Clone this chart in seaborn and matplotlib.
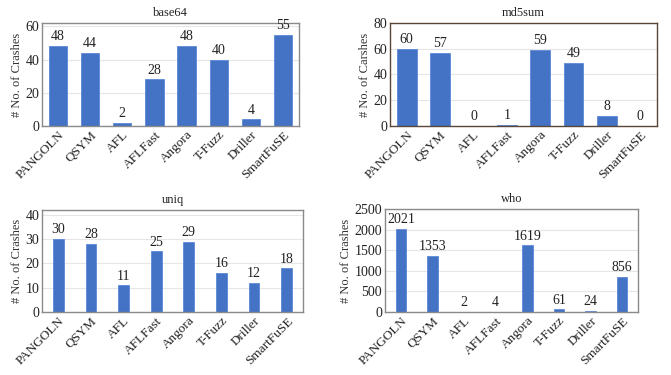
import matplotlib
matplotlib.use("Agg")
import matplotlib.pyplot as plt
import seaborn as sns
import pandas as pd

tools = ["PANGOLN", "QSYM", "AFL", "AFLFast", "Angora", "T-Fuzz", "Driller", "SmartFuSE"]
base64_vals = [48, 44, 2, 28, 48, 40, 4, 55]
md5sum_vals = [60, 57, 0, 1, 59, 49, 8, 0]
uniq_vals = [30, 28, 11, 25, 29, 16, 12, 18]
who_vals = [2021, 1353, 2, 4, 1619, 61, 24, 856]

titles = ["base64", "md5sum", "uniq", "who"]
ylabels = ["# No. of Crashes", "# No. of Carshes", "# No. of Crashes", "# No. of Crashes"]
yticks = [[0, 20, 40, 60], [0, 20, 40, 60, 80], [0, 10, 20, 30, 40], [0, 500, 1000, 1500, 2000, 2500]]
ylims = [(0, 62), (0, 80), (0, 42), (0, 2500)]
widths = [0.57, 0.59, 0.33, 0.33]
positions = [
    [0.0626, 0.664, 0.383, 0.2747],
    [0.5812, 0.664, 0.398, 0.2747],
    [0.0626, 0.168, 0.389, 0.272],
    [0.5738, 0.168, 0.377, 0.2747],
]
frame_colors = ["#8a8a8a", "#5a4636", "#8a8a8a", "#8a8a8a"]

sns.set_theme(style="white")
plt.rcParams["font.family"] = ["Liberation Serif", "DejaVu Serif"]

fig = plt.figure(figsize=(6.71, 3.75), dpi=100)
all_vals = [base64_vals, md5sum_vals, uniq_vals, who_vals]
for i, vals in enumerate(all_vals):
    ax = fig.add_axes(positions[i])
    df = pd.DataFrame({"tool": tools, "val": vals})
    sns.barplot(data=df, x="tool", y="val", ax=ax, color="#4472C4", saturation=1,
                width=widths[i], edgecolor="#5b8ad8", linewidth=0.6)
    ax.set_ylim(*ylims[i])
    ax.set_yticks(yticks[i])
    ax.yaxis.grid(True, color="#e6e6e6", linewidth=0.8)
    ax.set_axisbelow(True)
    ax.set_xlabel("")
    ax.set_ylabel(ylabels[i], fontsize=9, color="#333333", labelpad=2)
    ax.set_title(titles[i], fontsize=9, color="#222222", pad=5)
    ax.tick_params(axis="both", length=0, pad=2, colors="#222222")
    ax.tick_params(axis="y", labelsize=10)
    ax.tick_params(axis="x", labelsize=9.5)
    for lab in ax.get_xticklabels():
        lab.set_rotation(45)
        lab.set_ha("right")
        lab.set_rotation_mode("anchor")
    for sp in ax.spines.values():
        sp.set_visible(True)
        sp.set_color(frame_colors[i])
        sp.set_linewidth(1.0)
    ax.bar_label(ax.containers[0], labels=[str(v) for v in vals], fontsize=10, padding=2, color="#222222")

fig.savefig("out.png", dpi=100)
